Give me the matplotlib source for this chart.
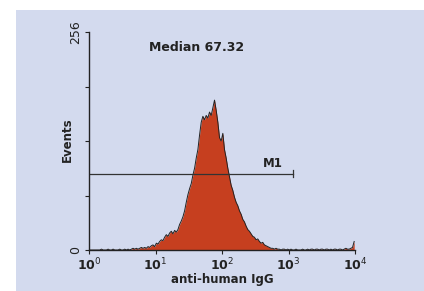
import numpy as np
import matplotlib
matplotlib.use("Agg")
import matplotlib.pyplot as plt
from matplotlib.patches import Rectangle

# histogram counts, 40 channels per decade from 10^0 to 10^4
decade0 = [0, 0, 0, 0, 0, 0, 0, 1, 0, 0, 0, 1, 0, 0, 1, 0, 0, 0, 1, 0,
           0, 1, 0, 1, 0, 1, 2, 1, 2, 1, 2, 3, 2, 3, 2, 4, 3, 5, 6, 4]
decade1 = [8, 7, 10, 12, 11, 15, 18, 16, 20, 22, 19, 23, 21, 24, 30, 34, 39, 46, 56, 65,
           72, 78, 88, 96, 108, 118, 135, 150, 157, 153, 158, 155, 162, 158, 167, 176, 164, 150, 132, 128]
decade2 = [137, 118, 108, 96, 86, 76, 70, 62, 56, 52, 46, 42, 36, 33, 28, 24, 22, 19, 16, 15,
           12, 13, 10, 8, 9, 6, 5, 4, 3, 2, 2, 1, 2, 1, 1, 0, 1, 1, 0, 1]
decade3 = [0, 1, 0, 0, 1, 0, 0, 0, 1, 0, 0, 1, 0, 1, 1, 0, 1, 1, 0, 1,
           1, 0, 1, 1, 0, 1, 0, 1, 1, 0, 1, 1, 0, 1, 2, 1, 1, 2, 3, 10]
counts = np.array(decade0 + decade1 + decade2 + decade3)
edges = np.logspace(0, 4, len(counts) + 1)
centers = np.sqrt(edges[:-1] * edges[1:])

marker_lo, marker_hi, marker_y = 1, 1150, 89.6
median_label = "Median 67.32"

bg = "#d3daee"
fill = "#c63f1f"
ink = "#222222"

fig = plt.figure(figsize=(4.24, 2.91), dpi=100, facecolor="white")
panel = Rectangle((16 / 424, 0), 1, 1 - 10 / 291, transform=fig.transFigure,
                  facecolor=bg, edgecolor="none", zorder=-5)
fig.add_artist(panel)

ax = fig.add_axes([89 / 424, 41 / 291, 266 / 424, 218 / 291])
ax.set_zorder(2)
ax.set_facecolor("none")
ax.fill_between(centers, counts, 0, color=fill, lw=0)
ax.plot(centers, counts, color=ink, lw=0.7)

ax.set_xscale("log")
ax.set_xlim(1, 1e4)
ax.set_ylim(0, 256)
for s in ["top", "right"]:
    ax.spines[s].set_visible(False)
for s in ["left", "bottom"]:
    ax.spines[s].set_color(ink)
    ax.spines[s].set_linewidth(1.0)

ax.set_xticks([1, 10, 100, 1000, 10000])
ax.set_xticklabels([r"$\mathbf{10}^{%d}$" % i for i in range(5)])
ax.xaxis.set_minor_locator(matplotlib.ticker.NullLocator())
ax.set_yticks([0, 64, 128, 192, 256])
ax.set_yticklabels(["0", "", "", "", "256"], rotation=90, va="center")
ax.tick_params(axis="both", direction="out", length=3, width=0.8, color=ink,
               labelsize=9, labelcolor=ink, pad=2)

# marker M1
ax.plot([marker_lo, marker_hi], [marker_y, marker_y], color="#333333", lw=0.9)
ax.plot([marker_hi, marker_hi], [marker_y - 4, marker_y + 4], color="#333333", lw=0.9)
ax.text(585, 102, "M1", ha="center", va="center", fontsize=8.5, fontweight="bold", color=ink)

ax.text(42, 238, median_label, ha="center", va="center", fontsize=9, fontweight="bold",
        color=ink)

fig.text(222 / 424, 1 - 279 / 291, "anti-human IgG", ha="center", va="center",
         fontsize=8.5, fontweight="bold", color=ink, zorder=3)
fig.text(67 / 424, 1 - 140 / 291, "Events", ha="center", va="center", rotation=90,
         fontsize=8.5, fontweight="bold", color=ink, zorder=3)

fig.savefig("out.png", dpi=100, facecolor="white")
